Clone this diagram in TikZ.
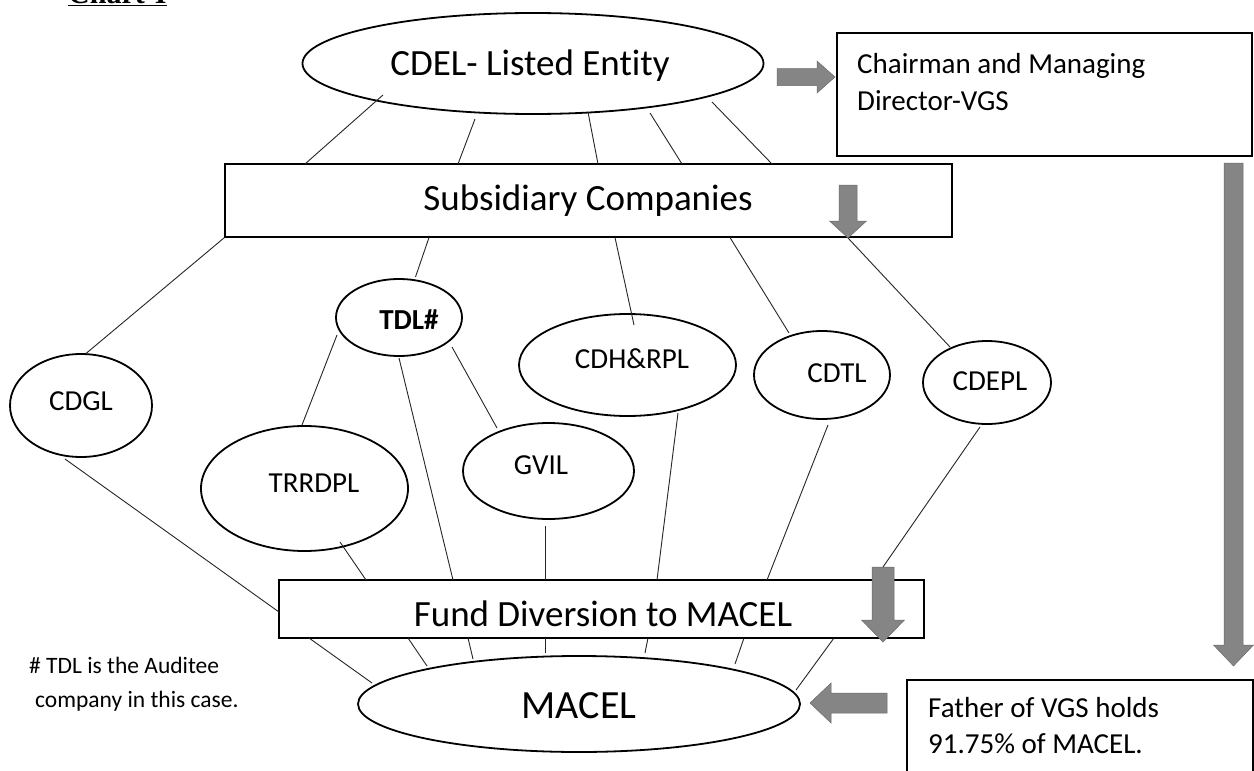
\documentclass[tikz,border=0pt]{standalone}
\usepackage{fontspec}
\setmainfont{Carlito}[Ligatures={NoCommon}]
\newfontfamily\serifchart{Liberation Serif}
\usetikzlibrary{shapes.geometric}
\newcommand\szBig{\fontsize{37}{44}\selectfont}
\newcommand\szMid{\fontsize{29}{36}\selectfont}
\newcommand\szNote{\fontsize{23.5}{30}\selectfont}
\newcommand\szMacel{\fontsize{40}{48}\selectfont}
\newcommand\arrowDown[6]{\filldraw[arr] (#1-#5,#2) -- (#1+#5,#2) -- (#1+#5,#3) -- (#1+#6,#3) -- (#1,#4) -- (#1-#6,#3) -- (#1-#5,#3) -- cycle;}
\newcommand\arrowH[6]{\filldraw[arr] (#2,#1-#5) -- (#3,#1-#5) -- (#3,#1-#6) -- (#4,#1) -- (#3,#1+#6) -- (#3,#1+#5) -- (#2,#1+#5) -- cycle;}
\begin{document}
\begin{tikzpicture}[x=1pt,y=-1pt,
  ell/.style={draw=black, line width=1.8pt, ellipse, inner sep=0pt},
  rbox/.style={draw=black, line width=1.2pt, rectangle, inner sep=0pt},
  conn/.style={draw=black!85, line width=0.9pt},
  lbl/.style={anchor=base, inner sep=0pt, text=black},
  lblw/.style={anchor=base west, inner sep=0pt, text=black},
  arr/.style={fill=black!48, draw=black!58, line width=0.5pt}]
\useasboundingbox (0,0) rectangle (1254,771);
\fill[white] (0,0) rectangle (1254,771);

% title (cut off at top)
\node[lblw, font={\serifchart\bfseries\fontsize{30}{36}\selectfont}] (chart) at (68,3) {Chart-I};
\draw[line width=1.6pt] ([yshift=-2.5pt]chart.base west) -- ([yshift=-2.5pt]chart.base east);

% ellipses
\node[ell, minimum width=461pt, minimum height=101pt] (cdel) at (533,63.5) {};
\node[ell, minimum width=126pt, minimum height=77pt] (tdl) at (399,317.5) {};
\node[ell, minimum width=142pt, minimum height=103pt] (cdgl) at (81,405.5) {};
\node[ell, minimum width=207pt, minimum height=125pt] (trrdpl) at (304.5,488.5) {};
\node[ell, minimum width=171pt, minimum height=96pt] (gvil) at (548.5,471) {};
\node[ell, minimum width=217pt, minimum height=102pt] (cdhrpl) at (627.5,365) {};
\node[ell, minimum width=136pt, minimum height=88pt] (cdtl) at (822,375) {};
\node[ell, minimum width=128pt, minimum height=83pt] (cdepl) at (987,382.5) {};
\node[ell, minimum width=442pt, minimum height=96pt] (macel) at (579,704) {};

% boxes
\node[rbox, minimum width=727pt, minimum height=73pt] (sub) at (588.5,200.5) {};
\node[rbox, minimum width=415pt, minimum height=123pt] (chair) at (1044.5,94.5) {};
\node[rbox, minimum width=645pt, minimum height=58pt] (fund) at (601.5,609) {};
\node[rbox, minimum width=346pt, minimum height=130pt] (father) at (1080,745) {};

% labels
\node[lbl, font=\szBig] (cdeltxt) at (530,75) {CDEL- Listed Entity};
\node[lbl, font=\szBig] (subtxt) at (588,210) {Subsidiary Companies};
\node[lbl, font=\szBig] (fundtxt) at (603,626) {Fund Diversion to MACEL};
\node[lbl, font=\szMacel] (maceltxt) at (579,718) {MACEL};
\node[lbl, font=\szMid\bfseries] (tdltxt) at (409,329) {TDL\#};
\node[lbl, font=\szMid] (cdhrpltxt) at (632,368) {CDH\&RPL};
\node[lbl, font=\szMid] (cdtltxt) at (837,382) {CDTL};
\node[lbl, font=\szMid] (cdepltxt) at (990,390) {CDEPL};
\node[lbl, font=\szMid] (cdgltxt) at (81,410) {CDGL};
\node[lbl, font=\szMid] (trrdpltxt) at (314,492) {TRRDPL};
\node[lbl, font=\szMid] (gviltxt) at (541,474) {GVIL};
\node[lblw, font=\szMid] (chairA) at (857,73) {Chairman and Managing};
\node[lblw, font=\szMid] (chairB) at (857,110) {Director-VGS};
\node[lblw, font=\szMid] (fatherA) at (928,717) {Father of VGS holds};
\node[lblw, font=\szMid] (fatherB) at (928,753) {91.75\% of MACEL.};
\node[lblw, font=\szNote] (noteA) at (29,673) {\# TDL is the Auditee};
\node[lblw, font=\szNote] (noteB) at (35,707) {company in this case.};

% block arrows
\arrowH{77}{777}{817}{835}{8.5}{16}
\arrowDown{848}{185}{221}{238}{9}{18.5}
\coordinate (a2tip) at (848,238);
\arrowDown{883}{567}{620}{642}{11}{21.5}
\coordinate (a3top) at (883,567);
\arrowDown{1233.5}{163}{645}{666}{9.5}{20}
\arrowH{703}{887}{831}{810}{10}{20}

% CDEL -> Subsidiary
\draw[conn] ([shift={(-150,31.5)}]cdel.center) -- ([shift={(-283.5,-36.5)}]sub.center);
\draw[conn] ([shift={(-58,55.5)}]cdel.center) -- ([shift={(-130.5,-36.5)}]sub.center);
\draw[conn] ([shift={(55,48.5)}]cdel.center) -- ([shift={(9.5,-36.5)}]sub.center);
\draw[conn] ([shift={(117,49.5)}]cdel.center) -- ([shift={(93.5,-36.5)}]sub.center);
\draw[conn] ([shift={(179,38.5)}]cdel.center) -- ([shift={(183.5,-36.5)}]sub.center);

% Subsidiary -> companies
\draw[conn] (sub.south west) -- ([shift={(5,-52)}]cdgl.center);
\draw[conn] ([shift={(-159.5,37)}]sub.center) -- ([shift={(16.5,-40.5)}]tdl.center);
\draw[conn] ([shift={(26.5,37)}]sub.center) -- ([shift={(6.5,-40)}]cdhrpl.center);
\draw[conn] ([shift={(141.5,37)}]sub.center) -- ([shift={(-33,-42)}]cdtl.center);
\draw[conn] (a2tip) -- ([shift={(-37,-35.5)}]cdepl.center);

% TDL -> its links
\draw[conn] ([shift={(-62,17.5)}]tdl.center) -- ([shift={(-2.5,-63.5)}]trrdpl.center);
\draw[conn] ([shift={(0,40.5)}]tdl.center) -- ([shift={(-148.5,-29)}]fund.center);
\draw[conn] ([shift={(53,29.5)}]tdl.center) -- ([shift={(-51.5,-43)}]gvil.center);

% companies -> Fund Diversion
\draw[conn] ([shift={(-16,53.5)}]cdgl.center) -- ([shift={(-322.5,3)}]fund.center);
\draw[conn] ([shift={(35.5,53.5)}]trrdpl.center) -- ([shift={(-235.5,-29)}]fund.center);
\draw[conn] ([shift={(-3.5,55)}]gvil.center) -- ([shift={(-56.5,-29)}]fund.center);
\draw[conn] ([shift={(50.5,48)}]cdhrpl.center) -- ([shift={(55.5,-29)}]fund.center);
\draw[conn] ([shift={(6,50)}]cdtl.center) -- ([shift={(165.5,-29)}]fund.center);
\draw[conn] ([shift={(-7,44.5)}]cdepl.center) -- (a3top);

% Fund Diversion -> MACEL
\draw[conn] ([shift={(-292.5,29)}]fund.center) -- ([shift={(-207,-21)}]macel.center);
\draw[conn] ([shift={(-193.5,29)}]fund.center) -- ([shift={(-152,-38)}]macel.center);
\draw[conn] ([shift={(-133.5,29)}]fund.center) -- ([shift={(-106,-45)}]macel.center);
\draw[conn] ([shift={(-56.5,29)}]fund.center) -- ([shift={(-34,-51)}]macel.center);
\draw[conn] ([shift={(46.5,29)}]fund.center) -- ([shift={(66,-51)}]macel.center);
\draw[conn] ([shift={(142.5,29)}]fund.center) -- ([shift={(156,-40)}]macel.center);
\draw[conn] ([shift={(232.5,29)}]fund.center) -- ([shift={(217,-14)}]macel.center);
\end{tikzpicture}
\end{document}
